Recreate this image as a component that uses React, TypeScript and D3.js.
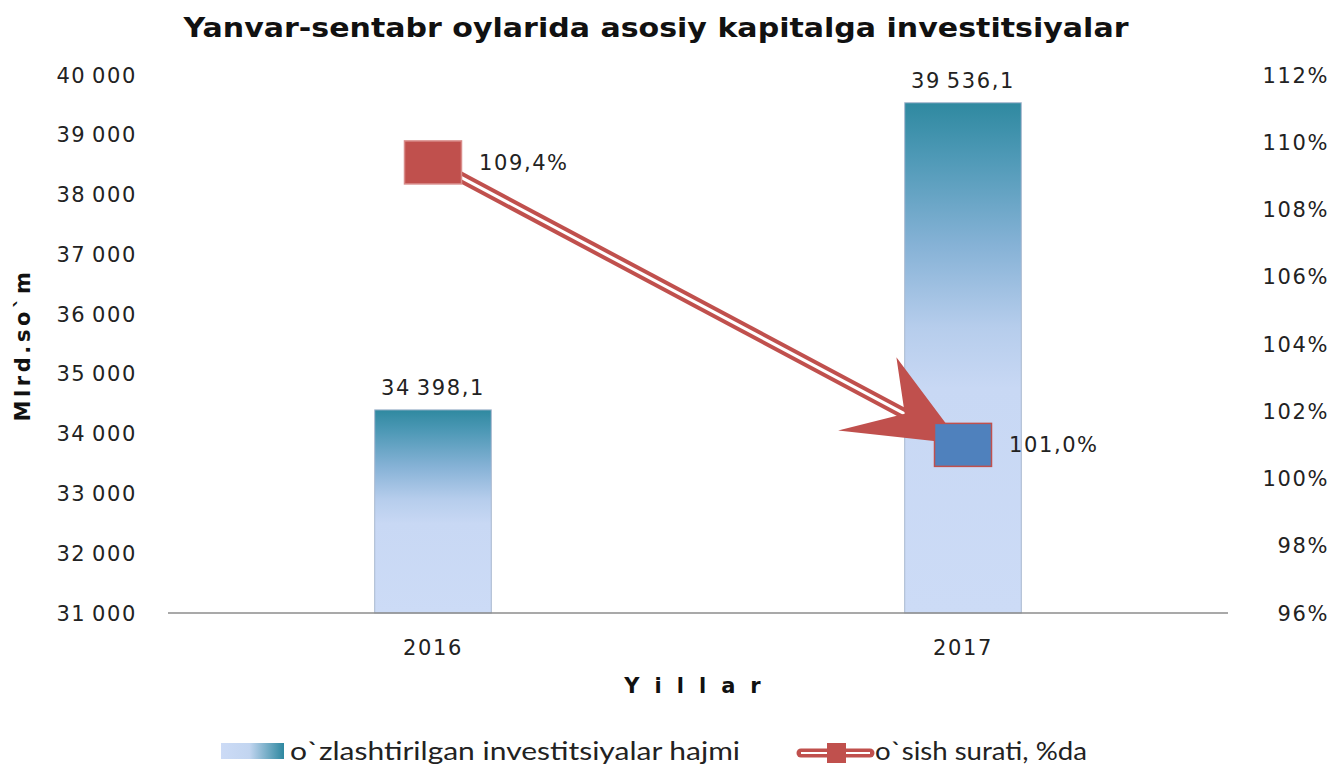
import React, { useEffect, useRef } from "react";
import * as d3 from "d3";

// chart values
const years = ["2016", "2017"];
const investVolume = [34398.1, 39536.1];
const growthRate = [109.4, 101.0];
const volumeLabels = ["34\u2009398,1", "39\u2009536,1"];
const rateLabels = ["109,4%", "101,0%"];
const leftTicks = [31000, 32000, 33000, 34000, 35000, 36000, 37000, 38000, 39000, 40000];
const rightTicks = [96, 98, 100, 102, 104, 106, 108, 110, 112];
const markerColors = ["#C0504D", "#4F81BD"];

const W = 1334,
  H = 764;
const margin = { top: 75, right: 106, bottom: 151, left: 168 };

const locale = d3.formatLocale({
  decimal: ",",
  thousands: "\u2009",
  grouping: [3],
  currency: ["", ""],
});
const fmtThousands = locale.format(",");

export default function App() {
  const ref = useRef<SVGSVGElement>(null);

  useEffect(() => {
    const svg = d3.select(ref.current);
    svg.selectAll("*").remove();

    const w = W - margin.left - margin.right;
    const h = H - margin.top - margin.bottom;

    const defs = svg.append("defs");
    // vertical gradient for the bars
    const bg = defs
      .append("linearGradient")
      .attr("id", "barGrad")
      .attr("x1", 0.5)
      .attr("y1", 0)
      .attr("x2", 0.5)
      .attr("y2", 1);
    [
      [0, "#2F89A0"],
      [0.1, "#4C98B5"],
      [0.28, "#86B2D6"],
      [0.44, "#B6CDEC"],
      [0.56, "#C8D8F4"],
      [1, "#CCDBF6"],
    ].forEach(([o, c]) => bg.append("stop").attr("offset", o as number).attr("stop-color", c as string));
    // horizontal gradient for the legend swatch
    const lg = defs.append("linearGradient").attr("id", "legGrad").attr("x1", 0).attr("x2", 1).attr("y1", 0).attr("y2", 0);
    [
      [0, "#CCDBF6"],
      [0.45, "#C2D5F0"],
      [1, "#2E88A0"],
    ].forEach(([o, c]) => lg.append("stop").attr("offset", o as number).attr("stop-color", c as string));

    const g = svg.append("g").attr("transform", `translate(${margin.left},${margin.top})`);

    const x = d3.scaleBand().domain(years).range([0, w]).paddingInner(0).paddingOuter(0);
    const y = d3.scaleLinear().domain([31000, 40000]).range([h, 0]);
    const y2 = d3.scaleLinear().domain([96, 112]).range([h, 0]);
    const barW = x.bandwidth() * 0.22;
    const cx = (d: string) => (x(d) as number) + x.bandwidth() / 2;

    const tickFont = "'DejaVu Sans', Verdana, sans-serif";

    // left axis labels
    g.selectAll(".ltick")
      .data(leftTicks)
      .join("text")
      .attr("x", -31)
      .attr("y", (d) => y(d))
      .attr("dy", "0.36em")
      .attr("text-anchor", "end")
      .attr("font-family", tickFont)
      .attr("font-size", 21)
      .attr("letter-spacing", 1.6)
      .attr("fill", "#222")
      .text((d) => fmtThousands(d));

    // right axis labels
    g.selectAll(".rtick")
      .data(rightTicks)
      .join("text")
      .attr("x", w + 101)
      .attr("y", (d) => y2(d))
      .attr("dy", "0.36em")
      .attr("text-anchor", "end")
      .attr("font-family", tickFont)
      .attr("font-size", 21)
      .attr("letter-spacing", 1.6)
      .attr("fill", "#222")
      .text((d) => d + "%");

    // bars
    g.selectAll(".bar")
      .data(years)
      .join("rect")
      .attr("x", (d) => cx(d) - barW / 2)
      .attr("y", (d, i) => y(investVolume[i]))
      .attr("width", barW)
      .attr("height", (d, i) => h - y(investVolume[i]))
      .attr("fill", "url(#barGrad)")
      .attr("stroke", "#A9B8CF")
      .attr("stroke-width", 1);

    // bar value labels
    g.selectAll(".blabel")
      .data(years)
      .join("text")
      .attr("x", (d) => cx(d))
      .attr("y", (d, i) => y(investVolume[i]) - 15)
      .attr("text-anchor", "middle")
      .attr("font-family", tickFont)
      .attr("font-size", 21)
      .attr("letter-spacing", 1.6)
      .attr("fill", "#222")
      .text((d, i) => volumeLabels[i]);

    // category axis
    g.append("line")
      .attr("x1", 0)
      .attr("x2", w)
      .attr("y1", h)
      .attr("y2", h)
      .attr("stroke", "#8C8C8C")
      .attr("stroke-width", 1.5);

    g.selectAll(".xlabel")
      .data(years)
      .join("text")
      .attr("x", (d) => cx(d))
      .attr("y", h + 42)
      .attr("text-anchor", "middle")
      .attr("font-family", tickFont)
      .attr("font-size", 21)
      .attr("letter-spacing", 1.6)
      .attr("fill", "#222")
      .text((d) => d);

    // growth line (double stroke) with arrow head
    const pts: [number, number][] = years.map((d, i) => [cx(d), y2(growthRate[i])]);
    const [p1, p2] = pts;
    const dx = p2[0] - p1[0],
      dy = p2[1] - p1[1];
    const len = Math.hypot(dx, dy);
    const ux = dx / len,
      uy = dy / len;
    const nx = -uy,
      ny = ux;
    const at = (a: number, b: number) => [p2[0] + ux * a + nx * b, p2[1] + uy * a + ny * b];
    const shaftEnd = at(-66, 0);

    g.append("line")
      .attr("x1", p1[0])
      .attr("y1", p1[1])
      .attr("x2", shaftEnd[0])
      .attr("y2", shaftEnd[1])
      .attr("stroke", "#C0504D")
      .attr("stroke-width", 11);
    g.append("line")
      .attr("x1", p1[0])
      .attr("y1", p1[1])
      .attr("x2", shaftEnd[0])
      .attr("y2", shaftEnd[1])
      .attr("stroke", "#fff")
      .attr("stroke-width", 3);

    const head = [at(-2, 0), at(-100, -46), at(-66, 0), at(-117, 46)];
    g.append("polygon")
      .attr("points", head.map((p) => p.join(",")).join(" "))
      .attr("fill", "#C0504D");

    // markers
    g.selectAll(".marker")
      .data(pts)
      .join("rect")
      .attr("x", (d) => d[0] - 28.5)
      .attr("y", (d) => d[1] - 21.5)
      .attr("width", 57)
      .attr("height", 43)
      .attr("fill", (d, i) => markerColors[i])
      .attr("stroke", (d, i) => (i === 0 ? "#D98C8A" : "#C0504D"))
      .attr("stroke-width", 1.5);

    g.selectAll(".mlabel")
      .data(pts)
      .join("text")
      .attr("x", (d) => d[0] + 46)
      .attr("y", (d) => d[1])
      .attr("dy", "0.36em")
      .attr("font-family", tickFont)
      .attr("font-size", 21)
      .attr("letter-spacing", 1.6)
      .attr("fill", "#222")
      .text((d, i) => rateLabels[i]);

    // title
    svg
      .append("text")
      .attr("x", 656)
      .attr("y", 37)
      .attr("text-anchor", "middle")
      .attr("font-family", tickFont)
      .attr("font-weight", "bold")
      .attr("font-size", 27)
      .attr("textLength", 945)
      .attr("lengthAdjust", "spacingAndGlyphs")
      .attr("fill", "#111")
      .text("Yanvar-sentabr oylarida asosiy kapitalga investitsiyalar");

    // axis titles
    svg
      .append("text")
      .attr("transform", `translate(30,345) rotate(-90)`)
      .attr("text-anchor", "middle")
      .attr("font-family", tickFont)
      .attr("font-weight", "bold")
      .attr("font-size", 21)
      .attr("letter-spacing", 3.6)
      .attr("fill", "#111")
      .text("Mlrd.so`m");

    svg
      .append("text")
      .attr("x", 700)
      .attr("y", 693)
      .attr("text-anchor", "middle")
      .attr("font-family", tickFont)
      .attr("font-weight", "bold")
      .attr("font-size", 21)
      .attr("letter-spacing", 15)
      .attr("fill", "#111")
      .text("Yillar");

    // legend
    const leg = svg.append("g").attr("font-family", "Lato, 'Open Sans', sans-serif").attr("font-size", 25).attr("fill", "#222");
    leg.append("rect").attr("x", 221).attr("y", 743).attr("width", 63).attr("height", 16).attr("fill", "url(#legGrad)");
    leg.append("text").attr("x", 290).attr("y", 760)
      .attr("textLength", 450).attr("lengthAdjust", "spacingAndGlyphs")
      .text("o`zlashtirilgan investitsiyalar hajmi");

    leg.append("line").attr("x1", 801).attr("x2", 870).attr("y1", 753).attr("y2", 753)
      .attr("stroke", "#C0504D").attr("stroke-width", 9).attr("stroke-linecap", "round");
    leg.append("line").attr("x1", 801).attr("x2", 870).attr("y1", 753).attr("y2", 753)
      .attr("stroke", "#fff").attr("stroke-width", 2);
    leg.append("rect").attr("x", 827).attr("y", 743).attr("width", 19).attr("height", 20).attr("fill", "#C0504D");
    leg.append("text").attr("x", 875).attr("y", 760)
      .attr("textLength", 212).attr("lengthAdjust", "spacingAndGlyphs")
      .text("o`sish surati, %da");
  }, []);

  return (
    <svg
      ref={ref}
      width={W}
      height={H}
      style={{ position: "absolute", left: 0, top: 0, background: "#fff" }}
    />
  );
}
